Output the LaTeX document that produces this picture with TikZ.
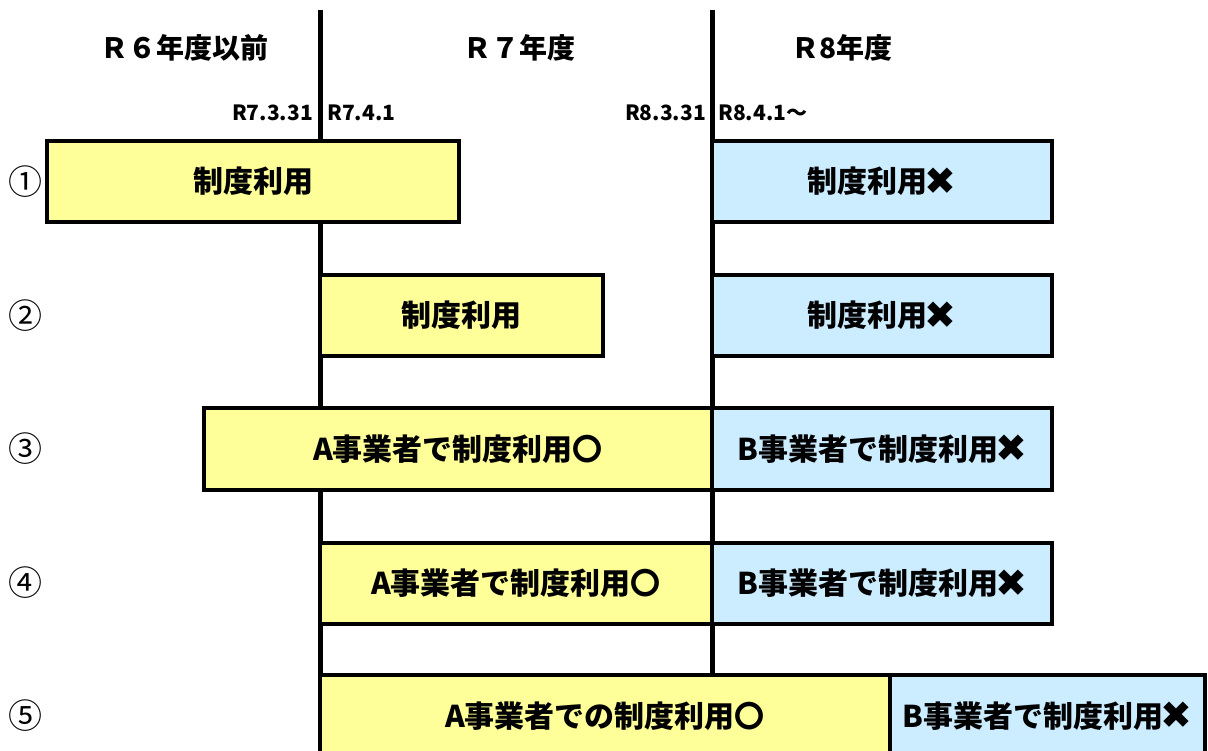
\documentclass[tikz,border=0pt]{standalone}
\usepackage{fontspec}
\setmainfont{Noto Sans CJK JP}
\newfontfamily\dvfont{DejaVu Sans}
\newcommand{\bx}{\hspace{-3pt}{\dvfont\fontsize{38}{34}\selectfont\smash{\raisebox{-1.5pt}{✖}}}}
\definecolor{yel}{HTML}{FFFF99}
\definecolor{blu}{HTML}{CCECFF}
\begin{document}
\begin{tikzpicture}[x=1pt,y=-1pt,
  box/.style={draw=black,line width=4pt,inner sep=0pt,font=\fontsize{30}{34}\selectfont\bfseries},
  ybox/.style={box,fill=yel},
  bbox/.style={box,fill=blu},
  head/.style={font=\fontsize{28}{32}\selectfont\bfseries},
  date/.style={font=\fontsize{21}{24}\selectfont\bfseries,inner sep=0pt},
  num/.style={font=\fontsize{34}{38}\selectfont},
  divider/.style={line width=5pt}]
\useasboundingbox (0,0) rectangle (1208,751);
\clip (0,0) rectangle (1208,751);
\fill[white] (0,0) rectangle (1208,751);
% dividers
\coordinate (l1t) at (320,10); \coordinate (l1b) at (320,751);
\coordinate (l2t) at (712,10); \coordinate (l2b) at (712,673);
\draw[divider] (l1t) -- (l1b);
\draw[divider] (l2t) -- (l2b);
% headers
\node[head] (h1) at (184,48) {Ｒ６年度以前};
\node[head] (h2) at (519,48) {Ｒ７年度};
\node[head] (h3) at (842,48) {Ｒ8年度};
\node[date,anchor=east] (d1) at (313,113) {R7.3.31};
\node[date,anchor=west] (d2) at (327,113) {R7.4.1};
\node[date,anchor=east] (d3) at (706,113) {R8.3.31};
\node[date,anchor=west] (d4) at (718,113) {R8.4.1～};
% row 1
\node[ybox,minimum width=412,minimum height=81] (y1) at (253,181.5) {制度利用};
\node[bbox,minimum width=340,minimum height=81] (b1) at (882,181.5) {制度利用\bx};
% row 2
\node[ybox,minimum width=283,minimum height=81] (y2) at (461.5,315.5) {制度利用};
\node[bbox,minimum width=340,minimum height=81] (b2) at (882,315.5) {制度利用\bx};
% row 3
\node[ybox,minimum width=508,minimum height=82] (y3) at (458,449) {A事業者で制度利用〇};
\node[bbox,minimum width=340,minimum height=82] (b3) at (882,449) {B事業者で制度利用\bx};
% row 4
\node[ybox,minimum width=392,minimum height=81] (y4) at (516,583.5) {A事業者で制度利用〇};
\node[bbox,minimum width=340,minimum height=81] (b4) at (882,583.5) {B事業者で制度利用\bx};
% row 5
\node[ybox,minimum width=570,minimum height=82] (y5) at (605,716) {A事業者での制度利用〇};
\node[bbox,minimum width=315,minimum height=82] (b5) at (1047.5,716) {B事業者で制度利用\bx};
% numbers
\node[num] (n1) at (26,182) {①};
\node[num] (n2) at (26,316) {②};
\node[num] (n3) at (26,449) {③};
\node[num] (n4) at (26,583) {④};
\node[num] (n5) at (26,716) {⑤};
\end{tikzpicture}
\end{document}
